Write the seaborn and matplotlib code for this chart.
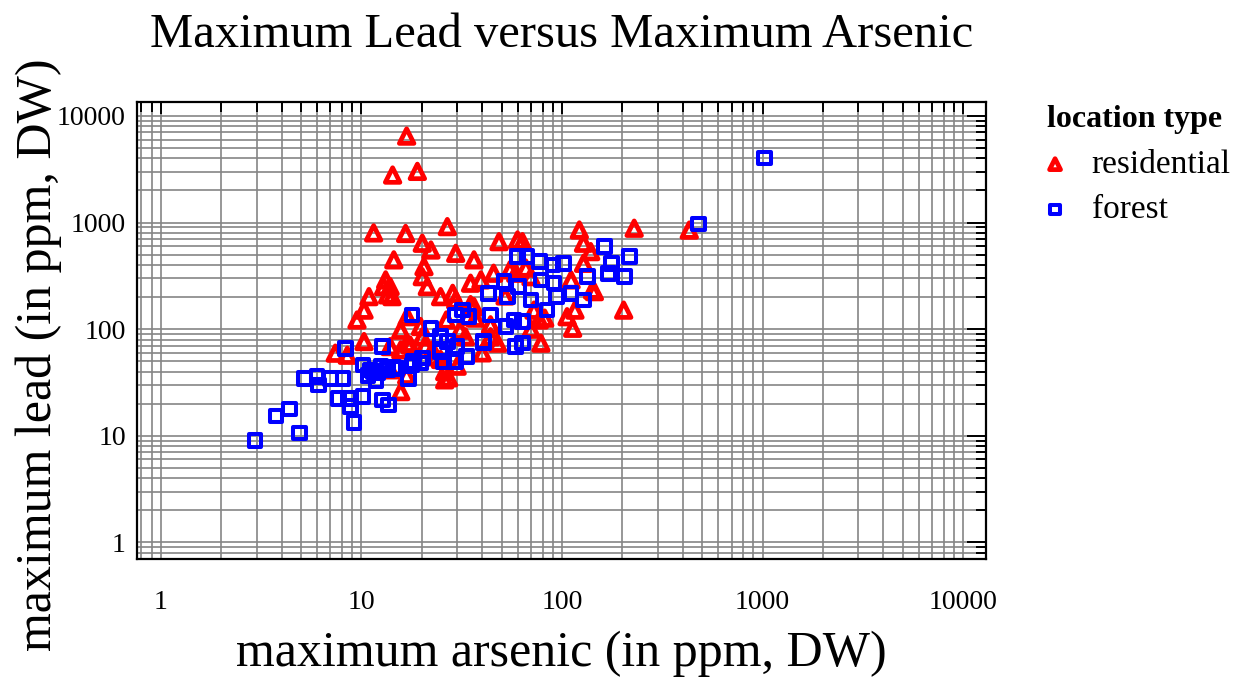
import matplotlib
matplotlib.use("Agg")
import matplotlib.pyplot as plt
import matplotlib.ticker as mticker
import pandas as pd
import seaborn as sns

sns.set_style("white")
plt.rcParams['font.family'] = ['Liberation Serif', 'DejaVu Serif']
plt.rcParams.update({'text.color': 'black', 'axes.labelcolor': 'black',
                     'xtick.color': 'black', 'ytick.color': 'black'})

# residential sites (red triangles): max arsenic, max lead
res_as = [16.8, 14.3, 19.0, 11.5, 16.6, 26.8, 20.1, 22.2, 29.5, 36.4,
          48.5, 60, 14.5, 20.5, 20.1, 21.3, 24.8, 28.5, 35, 39.4,
          45.6, 58.8, 13.9, 14.2, 16.9, 15.7, 19.7, 16.9, 20.1, 23.4,
          26, 15.7, 33, 44, 47.7, 36.4, 33.8, 13.9, 13.2, 12.9,
          13.5, 10.9, 10.3, 9.5, 10.3, 7.4, 8.5, 13.9, 122, 128,
          139, 128, 229, 203, 111, 145, 116, 106, 113, 78.5,
          77, 72.5, 63.5, 70, 142, 431, 27.2, 16.8, 52, 55,
          66, 29.5, 35, 26.5, 20.8, 22.6, 24.8, 31, 37, 82,
          70, 17.5, 15.7, 44, 40, 30, 26]
res_pb = [6470, 2790, 3020, 800, 790, 916, 640, 553, 515, 447,
          662, 687, 447, 386, 311, 251, 202, 217, 270, 290,
          335, 335, 251, 202, 131, 98, 106, 74, 85, 55,
          33.5, 26, 85, 85, 74, 163, 131, 41.6, 290, 251,
          210, 202, 151, 122, 76.6, 59.6, 57, 68.7, 852, 640,
          534, 415, 885, 151, 290, 225, 151, 131, 102, 74,
          122, 151, 662, 311, 233, 850, 35, 37, 205, 360,
          375, 188, 170, 122, 71, 64, 52, 98, 127, 127,
          100, 71, 64, 110, 60, 45, 40]

# forest sites (blue squares)
for_as = [2.95, 3.74, 4.37, 4.9, 5.2, 6.1, 6.0, 7.0, 8.1, 7.7,
          8.6, 10.2, 8.8, 9.2, 12.7, 13.6, 8.3, 12.7, 10.2, 11.1,
          12.0, 15.0, 17.2, 18.2, 19.7, 25.7, 29.5, 40.6, 58.8, 14.5,
          17.9, 60, 51.3, 43, 44, 53.5, 60.8, 57.5, 52.5, 29.5,
          31.9, 34.3, 22.2, 24.8, 26.8, 30, 40.7, 33.5, 28.9, 24.8,
          20.1, 17.9, 163, 176, 217, 171, 205, 134, 128, 102,
          90, 77, 67, 78.5, 91, 70, 84, 94, 111, 63.5,
          63.5, 1023, 479, 11.5, 12.5, 13.5, 10.8, 11.8]
for_pb = [9, 15.4, 17.8, 10.6, 34.7, 30, 36, 34.7, 34.7, 22.5,
          22.5, 23.4, 18.8, 13.3, 21.7, 19.5, 66, 68.7, 46, 41.6,
          38.7, 43, 34.7, 49.7, 48, 49.7, 49.7, 74.9, 68.7, 44,
          136, 479, 279, 217, 136, 202, 251, 122, 106, 136,
          151, 131, 102, 85, 76.6, 68.7, 76.6, 55.4, 49.7, 61.7,
          53.5, 46, 594, 415, 479, 335, 311, 311, 188, 415,
          400, 430, 479, 290, 270, 188, 151, 202, 217, 118,
          74, 4020, 967, 40, 45, 42, 37, 33]

df = pd.concat([
    pd.DataFrame({'arsenic': res_as, 'lead': res_pb, 'type': 'residential'}),
    pd.DataFrame({'arsenic': for_as, 'lead': for_pb, 'type': 'forest'}),
], ignore_index=True)

# colour, marker, size, edge width
styles = {'residential': ('red', '^', 110, 3.4), 'forest': ('blue', 's', 82, 2.9)}

fig = plt.figure(figsize=(12.41, 6.77), dpi=100)
ax = fig.add_axes([0.1104, 0.1743, 0.6841, 0.6755])

for name, (col, mk, size, lw) in styles.items():
    sns.scatterplot(data=df[df['type'] == name], x='arsenic', y='lead',
                    marker=mk, s=size, facecolor='none', edgecolor=col,
                    linewidth=lw, label=name, ax=ax, zorder=3)

ax.set_xscale('log')
ax.set_yscale('log')
ax.set_xlim(0.76, 13000)
ax.set_ylim(0.70, 13600)

ticks = [1, 10, 100, 1000, 10000]
for axis in (ax.xaxis, ax.yaxis):
    axis.set_major_locator(mticker.FixedLocator(ticks))
    axis.set_major_formatter(mticker.FixedFormatter([str(t) for t in ticks]))
    axis.set_minor_locator(mticker.LogLocator(base=10, subs=range(2, 10), numticks=20))
    axis.set_minor_formatter(mticker.NullFormatter())

ax.grid(True, which='both', color='#858585', linewidth=1.2)
ax.set_axisbelow(True)
ax.tick_params(which='both', direction='in', top=True, right=True,
               width=1.4, color='black')
ax.tick_params(axis='x', which='major', length=8.5, pad=22, labelsize=20)
ax.tick_params(axis='y', which='major', length=13.5, pad=8, labelsize=20)
ax.tick_params(which='minor', length=7)
for sp in ax.spines.values():
    sp.set_color('black')
    sp.set_linewidth(1.6)

ax.set_xlabel('')
ax.set_ylabel('')
fig.text(0.4525, 0.948, 'Maximum Lead versus Maximum Arsenic',
         ha='center', va='center', fontsize=35)
fig.text(0.4525, 0.034, 'maximum arsenic (in ppm, DW)',
         ha='center', va='center', fontsize=36)
fig.text(0.031, 0.476, 'maximum lead (in ppm, DW)',
         ha='center', va='center', rotation=90, fontsize=36)

ax.legend(loc='upper left', bbox_to_anchor=(0.826, 0.864),
          bbox_transform=fig.transFigure, frameon=False, borderaxespad=0,
          title='location type', fontsize=24, markerscale=0.75,
          title_fontproperties={'weight': 'bold', 'size': 23},
          handlelength=1.0, handletextpad=0.6, labelspacing=0.45)

fig.savefig('out.png', dpi=100)
